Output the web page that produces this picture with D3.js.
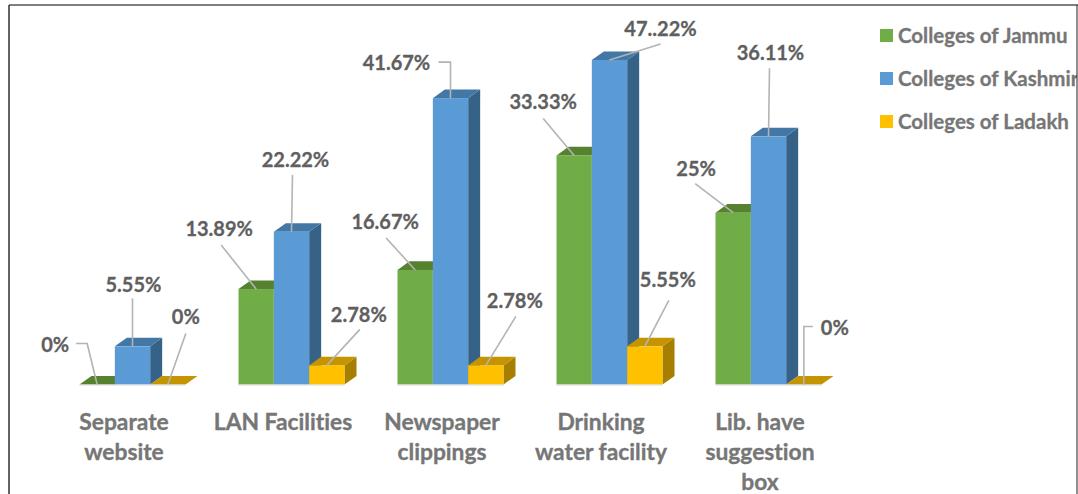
<!DOCTYPE html>
<html><head><meta charset="utf-8">
<script src="https://cdn.jsdelivr.net/npm/d3@7"></script>
<style>html,body{margin:0;padding:0;background:#fff}svg{display:block}text{font-family:Lato,"Open Sans",sans-serif;font-weight:700;font-variant-ligatures:none}</style>
</head><body><div id="chart"></div>
<script>
const categories = ["Separate website","LAN Facilities","Newspaper clippings","Drinking water facility","Lib. have suggestion box"];
const seriesNames = ["Colleges of Jammu","Colleges of Kashmir","Colleges of Ladakh"];
const jammu = [0,13.89,16.67,33.33,25];
const kashmir = [5.55,22.22,41.67,47.22,36.11];
const ladakh = [0,2.78,2.78,5.55,0];
const jammuLabels = ["0%","13.89%","16.67%","33.33%","25%"];
const kashmirLabels = ["5.55%","22.22%","41.67%","47..22%","36.11%"];
const ladakhLabels = ["0%","2.78%","2.78%","5.55%","0%"];
const catLines = [["Separate","website"],["LAN Facilities"],["Newspaper","clippings"],["Drinking","water facility"],["Lib. have","suggestion","box"]];

// label placement relative to the top of the bar: text centre, then leader bend points
const jammuPlace = [
 {tx:-42,ty:-40,pts:[[-21,-41],[-10,-41]]},
 {tx:-37,ty:-60,pts:[[-35,-44]]},
 {tx:-30,ty:-48,pts:[[-29,-32]]},
 {tx:-31,ty:-54,pts:[[-31,-37]]},
 {tx:-37,ty:-44,pts:[[-38,-29]]}];
const kashmirPlace = [
 {tx:1,ty:-62,pts:[[0,-48]]},
 {tx:4,ty:-72,pts:[[1,-57]]},
 {tx:-54,ty:-35,pts:[[-12,-36],[0,-36]]},
 {tx:51,ty:-31,pts:[[51,-16]]},
 {tx:2,ty:-84,pts:[[1,-68]]}];
const ladakhPlace = [
 {tx:18,ty:-68,pts:[[18,-51]]},
 {tx:32,ty:-51,pts:[[33,-36]]},
 {tx:29,ty:-65,pts:[[30,-49]]},
 {tx:23,ty:-67,pts:[[24,-46]]},
 {tx:31,ty:-57,pts:[[9,-58],[0,-58]]}];

const W=1078,H=494,base=384.5,dx=12,dy=8.6;
const colors=[{f:"#70ad47",t:"#56822f",s:"#4f7a2b"},{f:"#5b9bd5",t:"#4377a6",s:"#376287"},{f:"#ffc000",t:"#c49500",s:"#a67e00"}];
const svg=d3.select("#chart").append("svg").attr("width",W).attr("height",H);
svg.append("defs").append("clipPath").attr("id","frame").append("rect").attr("x",9).attr("y",5).attr("width",1068).attr("height",489);
const root=svg.append("g").attr("clip-path","url(#frame)");

const x0=d3.scaleBand().domain(categories).range([53,848]);
const x1=d3.scaleBand().domain(seriesNames).range([26.5,132.5]);
const y=d3.scaleLinear().domain([0,47.22]).range([base,60]);

const data=[jammu,kashmir,ladakh];
const labels=[jammuLabels,kashmirLabels,ladakhLabels];
const places=[jammuPlace,kashmirPlace,ladakhPlace];
const w=x1.bandwidth();

function face(pts,fill){root.append("polygon").attr("points",pts.map(p=>p.join(",")).join(" ")).attr("fill",fill);}
// draw series back to front per group so neighbours overlap like the original
categories.forEach((c,i)=>{
  seriesNames.forEach((s,k)=>{
    const v=data[k][i],l=x0(c)+x1(s),r=l+w,t=y(v),col=colors[k];
    face([[r,t],[r+dx,t-dy],[r+dx,base-dy],[r,base]],col.s);
    face([[l,t],[l+dx,t-dy],[r+dx,t-dy],[r,t]],col.t);
    if(v>0) root.append("rect").attr("x",l).attr("y",t).attr("width",w).attr("height",base-t).attr("fill",col.f);
  });
  root.append("line").attr("x1",x0(c)+x1(seriesNames[0])).attr("x2",x0(c)+x1(seriesNames[2])+w)
    .attr("y1",base+.5).attr("y2",base+.5).attr("stroke","#d9d9d9").attr("stroke-width",1);
});

// leaders and value labels
categories.forEach((c,i)=>{
  seriesNames.forEach((s,k)=>{
    const ax=x0(c)+x1(s)+w/2, ay=y(data[k][i]), p=places[k][i];
    const pts=p.pts.map(q=>[ax+q[0],ay+q[1]]).concat([[ax,ay]]);
    root.append("path").attr("d",d3.line()(pts)).attr("fill","none").attr("stroke","#b3b3b3").attr("stroke-width",1.6);
    root.append("text").attr("x",ax+p.tx).attr("y",ay+p.ty).attr("dy","0.36em").attr("text-anchor","middle")
      .attr("font-size",20).attr("fill","#5f5f5f").attr("stroke","#5f5f5f").attr("stroke-width",0.3).text(labels[k][i]);
  });
});

// category axis
const axis=d3.axisBottom(x0).tickSize(0).tickFormat("");
const ax=root.append("g").attr("transform",`translate(-8.5,${base})`).call(axis);
ax.select(".domain").remove();
ax.selectAll(".tick").each(function(d,i){
  const t=d3.select(this).select("text").attr("y",0).attr("dy",null).attr("font-size",22.8).attr("fill","#767676").attr("stroke","#767676").attr("stroke-width",0.35).attr("text-anchor","middle");
  t.style("font-family",'Lato,"Open Sans",sans-serif').style("font-weight",700);
  catLines[i].forEach((ln,j)=>t.append("tspan").attr("x",0).attr("y",45+30*j).text(ln));
});

// legend
const ly=d3.scalePoint().domain(seriesNames).range([35.5,121.5]);
seriesNames.forEach((s,k)=>{
  root.append("rect").attr("x",880).attr("y",ly(s)-6.5).attr("width",13).attr("height",13).attr("fill",colors[k].f);
  root.append("text").attr("x",898).attr("y",ly(s)).attr("dy","0.35em").attr("font-size",20.5).attr("fill","#767676").attr("stroke","#767676").attr("stroke-width",0.3).text(s);
});

// frame
svg.append("line").attr("x1",9).attr("x2",1078).attr("y1",5).attr("y2",5).attr("stroke","#555").attr("stroke-width",1.6);
svg.append("line").attr("x1",9).attr("x2",9).attr("y1",5).attr("y2",494).attr("stroke","#222").attr("stroke-width",1.4);
svg.append("line").attr("x1",1077).attr("x2",1077).attr("y1",5).attr("y2",494).attr("stroke","#222").attr("stroke-width",1);
</script></body></html>
